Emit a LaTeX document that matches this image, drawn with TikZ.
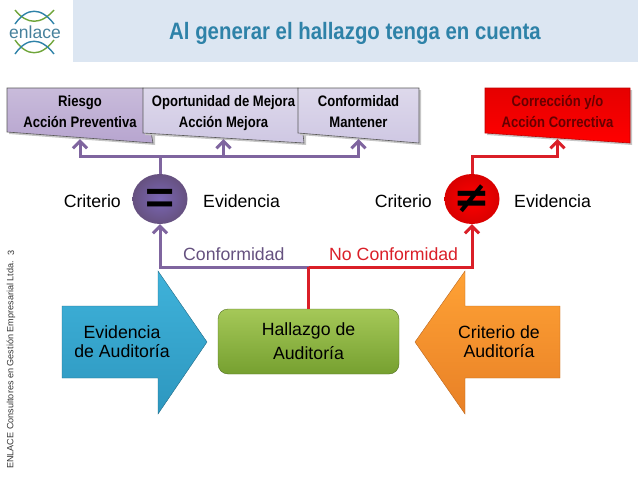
\documentclass[tikz,border=0pt]{standalone}
\usepackage{fontspec}
\setmainfont{Liberation Sans}
\newfontfamily\narrowfont[FakeStretch=0.86]{Liberation Sans}
\newfontfamily\symbolfont{DejaVu Sans}
\usetikzlibrary{arrows.meta, shapes.geometric}
\definecolor{bandblue}{HTML}{DCE6F2}
\definecolor{titleblue}{HTML}{2E82A8}
\definecolor{logogreen}{HTML}{6FA53A}
\definecolor{lilacdark}{HTML}{B7A5CF}
\definecolor{lilac}{HTML}{CFC8E3}
\definecolor{linepurple}{HTML}{7F659F}
\definecolor{linered}{HTML}{DA1F28}
\definecolor{bluetop}{HTML}{3FB2DA}
\definecolor{bluebottom}{HTML}{2D97BF}
\definecolor{orangetop}{HTML}{FFA235}
\definecolor{orangebottom}{HTML}{E88026}
\definecolor{greentop}{HTML}{A5C858}
\definecolor{greenbottom}{HTML}{76A030}
\tikzset{boxtext/.style={font=\narrowfont\bfseries\fontsize{15.2}{20.5}\selectfont, align=center, minimum height=52pt, inner sep=0pt}}
\tikzset{plaintext/.style={font=\fontsize{17.7}{20}\selectfont, inner sep=0pt}}
\tikzset{shapetext/.style={font=\fontsize{17.7}{19}\selectfont, align=center, inner sep=0pt}}
\tikzset{purpleline/.style={draw=linepurple, line width=3pt}}
\tikzset{redline/.style={draw=linered, line width=3pt}}
\tikzset{barb/.style={-{Straight Barb[length=7pt,width=14pt]}}}
\tikzset{boxedge/.style={draw=gray!70!black, line width=0.6pt}}
\tikzset{boxshadow/.style={fill=gray!45}}
\begin{document}
\begin{tikzpicture}[x=1pt, y=-1pt]
\useasboundingbox (0,0) rectangle (638,479);

% title band
\fill[bandblue] (73,0) rectangle (638,62);
\node[text=titleblue, font=\narrowfont\bfseries\fontsize{23.7}{25}\selectfont, inner sep=0pt] (title) at (355,33) {Al generar el hallazgo tenga en cuenta};

% logo
\draw[logogreen, line width=1.4pt] (15,10) .. controls (27,25) and (41,25) .. (54,10);
\draw[titleblue, line width=1.4pt] (15,24) .. controls (27,7) and (41,7) .. (54,24);
\draw[logogreen, line width=1.4pt] (15,40) .. controls (27,57) and (41,57) .. (54,40);
\draw[titleblue, line width=1.4pt] (15,54) .. controls (27,37) and (41,37) .. (54,54);
\node[text=titleblue!70!gray, font=\fontsize{17.5}{18}\selectfont, inner sep=0pt] (logo) at (35,32) {enlace};

% side note
\node[rotate=90, anchor=west, font=\fontsize{9.1}{10}\selectfont, inner sep=0pt, text=black!80] (side) at (11,469) {ENLACE Consultores en Gestión Empresarial Ltda.};
\node[rotate=90, font=\fontsize{9.1}{10}\selectfont, inner sep=0pt, text=black!80] (page) at (11,253) {3};

% boxes
\fill[boxshadow] (9,90) -- (155,90) -- (155,145) -- (9,134) -- cycle;
\shade[top color=lilacdark!75!white, bottom color=lilacdark, boxedge] (7,88) -- (143,88) -- (153,143) -- (7,132) -- cycle;
\fill[boxshadow] (145,90) -- (306,90) -- (306,145) -- (145,135) -- cycle;
\shade[top color=lilac!70!white, bottom color=lilac, boxedge] (143,88) -- (298,88) -- (304,143) -- (143,133) -- cycle;
\fill[boxshadow] (300,90) -- (421,90) -- (421,145) -- (300,135) -- cycle;
\shade[top color=lilac!70!white, bottom color=lilac, boxedge] (298,88) -- (419,88) -- (419,143) -- (298,133) -- cycle;
\fill[boxshadow] (487,90) -- (632,90) -- (632,145) -- (487,135) -- cycle;
\shade[top color=red!90!black, bottom color=red, draw=red!75!black, line width=0.6pt] (485,88) -- (630,88) -- (630,143) -- (485,133) -- cycle;

\node[boxtext] (riesgo) at (80,113) {\strut Riesgo\\\strut Acción Preventiva};
\node[boxtext] (oportunidad) at (223.5,113) {\strut Oportunidad de Mejora\\\strut Acción Mejora};
\node[boxtext] (conformidad) at (358.5,113) {\strut Conformidad\\\strut Mantener};
\node[boxtext, text=red!40!black] (correccion) at (557.5,113) {\strut Corrección y/o\\\strut Acción Correctiva};

% big shapes
\shade[top color=bluetop, bottom color=bluebottom, draw=bluebottom!70!black, line width=0.4pt] (62,306) -- (158,306) -- (158,271) -- (207,342) -- (158,414) -- (158,378) -- (62,378) -- cycle;
\shade[top color=orangetop, bottom color=orangebottom, draw=orangebottom!80!black, line width=0.4pt] (560,306) -- (465,306) -- (465,271) -- (415,342) -- (465,414) -- (465,378) -- (560,378) -- cycle;
\node[shapetext] (evidencia) at (122,342) {Evidencia\\de Auditoría};
\node[shapetext] (criterio) at (499,342) {Criterio de\\Auditoría};
\node[font=\fontsize{17.7}{24}\selectfont, align=center, inner sep=0pt, rounded corners=10pt, minimum width=181pt, minimum height=65pt, top color=greentop, bottom color=greenbottom, draw=greenbottom!70!black, line width=0.4pt] (hallazgo) at (308.5,341.5) {Hallazgo de\\Auditoría};

% circles
\node[ellipse, inner sep=0pt, minimum width=55pt, minimum height=50pt, shading=radial, inner color=linepurple!85!blue!90!white, outer color=linepurple!80!black, text=black, font=\narrowfont\bfseries\fontsize{58}{58}\selectfont] (igual) at (160,199) {\raisebox{-14pt}[0pt][0pt]{\scalebox{1}[0.8]{=}}};
\node[ellipse, inner sep=0pt, minimum width=55pt, minimum height=50pt, shading=radial, inner color=red, outer color=red!85!black, text=black, font=\symbolfont\bfseries\fontsize{44}{44}\selectfont] (distinto) at (472,199) {≠};

% labels
\node[plaintext, anchor=east] (critizq) at (121,201) {Criterio};
\node[plaintext, anchor=west] (evidizq) at (203,201) {Evidencia};
\node[plaintext, anchor=east] (critder) at (432,201) {Criterio};
\node[plaintext, anchor=west] (evidder) at (514,201) {Evidencia};
\node[plaintext, anchor=west, text=linepurple!80!black] (conf) at (183,254) {Conformidad};
\node[plaintext, anchor=west, text=linered] (noconf) at (329,254) {No Conformidad};

% connectors
\coordinate (tronco) at (160,156);
\coordinate (quiebre) at (308.5,267);
\coordinate (codo) at (472,156);
\draw[purpleline] (igual.north) -- (tronco);
\draw[purpleline, barb] (tronco) -| (riesgo.south);
\draw[purpleline, barb] (tronco) -| (oportunidad.south);
\draw[purpleline, barb] (tronco) -| (conformidad.south);
\draw[purpleline, barb] (quiebre) -| (igual.south);
\draw[redline, barb] (distinto.north) -- (codo) -| (correccion.south);
\draw[redline, barb] (quiebre) -| (distinto.south);
\draw[redline] (hallazgo.north) -- (quiebre);
\end{tikzpicture}
\end{document}
